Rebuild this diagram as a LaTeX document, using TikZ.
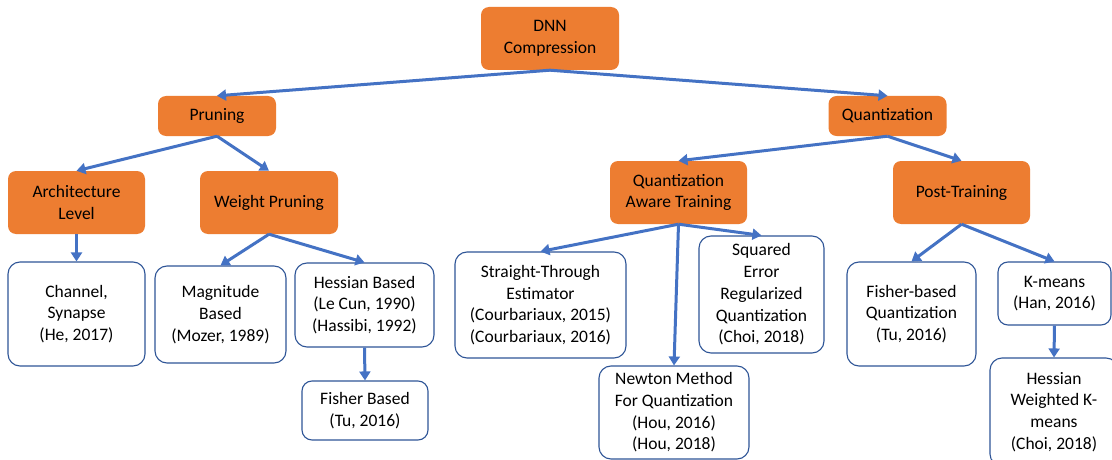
\documentclass[tikz,border=0pt]{standalone}
\usepackage{fontspec}
\setmainfont{Carlito}
\usetikzlibrary{arrows.meta}
\definecolor{boxorange}{HTML}{ED7D31}
\definecolor{arrowblue}{HTML}{4472C4}
\definecolor{edgeblue}{HTML}{2F5597}
\tikzset{
  base/.style={align=center, inner sep=0pt, font=\fontsize{17.5}{21.7}\selectfont, text=black},
  cat/.style={base, fill=boxorange, rounded corners=8pt},
  leaf/.style={base, fill=white, draw=edgeblue, line width=1.1pt, rounded corners=12pt},
  conn/.style={draw=arrowblue, line width=3pt, -{Triangle[length=9pt,width=11pt]}, shorten >=0pt}
}
\begin{document}
\begin{tikzpicture}[x=1pt,y=-1pt]
\clip (0,0) rectangle (1112,460);
\fill[white] (0,0) rectangle (1112,460);
% category nodes
\node[cat, minimum width=138pt, minimum height=63pt] (dnn) at (550,38.5) {DNN\\Compression};
\node[cat, minimum width=118pt, minimum height=40pt] (prun) at (217,116) {Pruning};
\node[cat, minimum width=118pt, minimum height=40pt] (quant) at (887.5,116) {Quantization};
\node[cat, minimum width=137pt, minimum height=63pt] (arch) at (76.5,202.5) {Architecture\\Level};
\node[cat, minimum width=138pt, minimum height=63pt] (weight) at (269,202.5) {Weight Pruning};
\node[cat, minimum width=137pt, minimum height=63pt] (qat) at (678.5,192.5) {Quantization\\Aware Training};
\node[cat, minimum width=137pt, minimum height=63pt] (post) at (961.5,192.5) {Post-Training};
% leaf nodes
\node[leaf, minimum width=137pt, minimum height=104pt] (chan) at (76.5,314) {Channel,\\Synapse\\(He, 2017)};
\node[leaf, minimum width=131pt, minimum height=97pt] (mag) at (220.5,314.5) {Magnitude\\Based\\(Mozer, 1989)};
\node[leaf, minimum width=139pt, minimum height=84pt] (hess) at (364.5,305) {Hessian Based\\(Le Cun, 1990)\\(Hassibi, 1992)};
\node[leaf, minimum width=126pt, minimum height=59pt, rounded corners=10pt] (fish) at (365,410.5) {Fisher Based\\(Tu, 2016)};
\node[leaf, minimum width=171pt, minimum height=106pt] (ste) at (540.5,305) {Straight-Through\\Estimator\\(Courbariaux, 2015)\\(Courbariaux, 2016)};
\node[leaf, minimum width=125pt, minimum height=117pt] (sq) at (761.5,294.5) {Squared\\Error\\Regularized\\Quantization\\(Choi, 2018)};
\node[leaf, minimum width=150pt, minimum height=93pt] (newt) at (674,412.5) {Newton Method\\For Quantization\\(Hou, 2016)\\(Hou, 2018)};
\node[leaf, minimum width=129pt, minimum height=104pt] (fq) at (911.5,314) {Fisher-based\\Quantization\\(Tu, 2016)};
\node[leaf, minimum width=113pt, minimum height=63pt, rounded corners=10pt] (km) at (1054.5,293.5) {K-means\\(Han, 2016)};
\node[leaf, minimum width=128pt, minimum height=108pt] (hwk) at (1054,412) {Hessian\\Weighted K-\\means\\(Choi, 2018)};
% connectors
\draw[conn] (dnn.south) -- (prun.north);
\draw[conn] (dnn.south) -- (quant.north);
\draw[conn] (prun.south) -- (arch.north);
\draw[conn] (prun.south) -- (weight.north);
\draw[conn] (quant.south) -- (qat.north);
\draw[conn] (quant.south) -- (post.north);
\draw[conn] (arch.south) -- (chan.north);
\draw[conn] (weight.south) -- (mag.north);
\draw[conn] (weight.south) -- (hess.north);
\draw[conn] (hess.south) -- (fish.north);
\draw[conn] (qat.south) -- (ste.north);
\draw[conn] (qat.south) -- (newt.north);
\draw[conn] (qat.south) -- (sq.north);
\draw[conn] (post.south) -- (fq.north);
\draw[conn] (post.south) -- (km.north);
\draw[conn] (km.south) -- (hwk.north);
\end{tikzpicture}
\end{document}
